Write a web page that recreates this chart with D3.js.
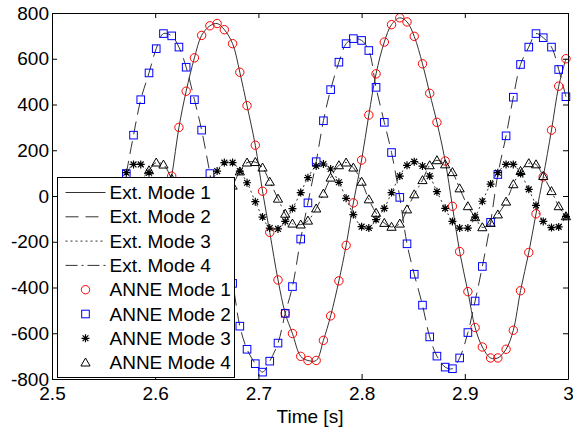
<!DOCTYPE html>
<html>
<head>
<meta charset="UTF-8">
<script src="https://cdn.jsdelivr.net/npm/d3@7/dist/d3.min.js"></script>
<style>
  body { margin: 0; background: #fff; }
  text { font-family: Arial, "Liberation Sans", sans-serif; fill: #000; }
</style>
</head>
<body>
<script>
// time samples [s]
var time = [2.572, 2.579, 2.586, 2.594, 2.601, 2.608, 2.616, 2.623, 2.630, 2.638,
            2.645, 2.653, 2.660, 2.667, 2.675, 2.682, 2.689, 2.697, 2.704, 2.711,
            2.719, 2.726, 2.733, 2.741, 2.748, 2.756, 2.763, 2.770, 2.778, 2.785,
            2.792, 2.800, 2.807, 2.814, 2.822, 2.829, 2.837, 2.844, 2.851, 2.859,
            2.866, 2.873, 2.881, 2.888, 2.895, 2.903, 2.910, 2.917, 2.925, 2.932,
            2.940, 2.947, 2.954, 2.962, 2.969, 2.976, 2.984, 2.991, 2.998];

var mode1 = [-710, -660, -570, -440, -280, -100, 87, 300, 458, 604,
             702, 744, 754, 727, 666, 541, 395, 222, 21, -159,
             -367, -513, -601, -701, -719, -719, -631, -524, -371, -216,
             -30, 157, 354, 534, 673, 749, 779, 761, 698, 578,
             449, 322, 153, -45, -243, -418, -575, -660, -708, -708,
             -670, -587, -414, -247, -78, 84, 288, 480, 600];

var mode2 = [98, 266, 421, 538, 644, 710, 700, 651, 563, 421,
             288, 98, -85, -245, -382, -569, -670, -733, -770, -722,
             -643, -513, -396, -188, -30, 150, 329, 465, 585, 666,
             688, 680, 636, 475, 322, 190, -6, -209, -342, -477,
             -616, -700, -748, -755, -708, -597, -459, -308, -115, 94,
             263, 432, 575, 651, 710, 692, 651, 553, 434];

var mode3 = [102, 138, 138, 102, 50, -25, -90, -138, -142, -110,
             -45, 35, 109, 146, 146, 109, 58, -25, -92, -140,
             -144, -111, -55, 15, 80, 131, 140, 118, 60, -10,
             -81, -134, -140, -103, -54, 15, 87, 134, 150, 131,
             87, 19, -54, -111, -140, -140, -92, -23, 52, 102,
             138, 138, 98, 29, -41, -111, -138, -135, -89];

var mode4 = [-60, -5, 60, 112, 146, 137, 75, 10, -60, -115,
             -140, -130, -90, -25, 45, 107, 146, 148, 124, 62,
             -12, -78, -121, -125, -108, -55, 10, 80, 134, 146,
             124, 62, -15, -74, -118, -135, -121, -59, 7, 69,
             134, 156, 138, 104, 33, -45, -93, -137, -118, -81,
             -25, 51, 109, 143, 138, 87, 21, -45, -89];

var xTicks = [2.5, 2.6, 2.7, 2.8, 2.9, 3];
var yTicks = [-800, -600, -400, -200, 0, 200, 400, 600, 800];
var legendLabels = ["Ext. Mode 1", "Ext. Mode 2", "Ext. Mode 3", "Ext. Mode 4",
                    "ANNE Mode 1", "ANNE Mode 2", "ANNE Mode 3", "ANNE Mode 4"];

var width = 573, height = 430;
var fs = "19px";

var svg = d3.select("body").append("svg")
    .attr("width", width)
    .attr("height", height);

var x = d3.scaleLinear().domain([2.5, 3]).range([52, 568]);
var y = d3.scaleLinear().domain([-800, 800]).range([379, 13]);

// line styles of the four Ext. modes
var dashes = [null, "13,7", "2,3", "12,4,2,4"];
var series = [mode1, mode2, mode3, mode4];

var line = d3.line()
    .x(function(d, i) { return x(time[i]); })
    .y(function(d) { return y(d); })
    .curve(d3.curveCatmullRom);

var plot = svg.append("g");

series.forEach(function(s, k) {
    plot.append("path")
        .datum(s)
        .attr("d", line)
        .attr("fill", "none")
        .attr("stroke", "#333")
        .attr("stroke-width", 1)
        .attr("stroke-dasharray", dashes[k]);
});

// marker shapes
function circle(g) {
    g.append("circle").attr("r", 4.2).attr("fill", "none").attr("stroke", "#f00");
}
function square(g) {
    g.append("rect").attr("x", -3.8).attr("y", -3.8).attr("width", 7.6).attr("height", 7.6)
        .attr("fill", "none").attr("stroke", "#00f");
}
function star(g) {
    g.append("path").attr("d", "M-4,0H4M0,-4V4M-2.9,-2.9L2.9,2.9M-2.9,2.9L2.9,-2.9")
        .attr("stroke", "#000").attr("stroke-width", 1.2);
}
function triangle(g) {
    g.append("path").attr("d", "M0,-4.6L4.6,3.4L-4.6,3.4Z")
        .attr("fill", "none").attr("stroke", "#000");
}
var markers = [circle, square, star, triangle];

series.forEach(function(s, k) {
    plot.selectAll(null)
        .data(s)
        .enter().append("g")
        .attr("transform", function(d, i) { return "translate(" + x(time[i]) + "," + y(d) + ")"; })
        .each(function() { markers[k](d3.select(this)); });
});

// axes, ticks pointing inward
function styleAxis(g) {
    g.selectAll(".domain").attr("stroke", "#000");
    g.selectAll(".tick line").attr("stroke", "#000");
    g.selectAll("text").attr("font-size", fs).attr("font-family", null).attr("fill", "#000");
}

svg.append("g")
    .attr("transform", "translate(0," + y(-800) + ")")
    .call(d3.axisBottom(x).tickValues(xTicks).tickSizeInner(-5).tickSizeOuter(0).tickPadding(8)
        .tickFormat(d3.format("")))
    .call(styleAxis);

svg.append("g")
    .attr("transform", "translate(0," + y(800) + ")")
    .call(d3.axisTop(x).tickValues(xTicks).tickSizeInner(-5).tickSizeOuter(0).tickFormat(""))
    .call(styleAxis);

svg.append("g")
    .attr("transform", "translate(" + x(2.5) + ",0)")
    .call(d3.axisLeft(y).tickValues(yTicks).tickSizeInner(-5).tickSizeOuter(0).tickPadding(3)
        .tickFormat(d3.format("d")))
    .call(styleAxis);

svg.append("g")
    .attr("transform", "translate(" + x(3) + ",0)")
    .call(d3.axisRight(y).tickValues(yTicks).tickSizeInner(-5).tickSizeOuter(0).tickFormat(""))
    .call(styleAxis);

// minus sign as plain hyphen, like the original
svg.selectAll("text").text(function() { return this.textContent.replace("\u2212", "-"); });

svg.append("text")
    .attr("x", (x(2.5) + x(3)) / 2)
    .attr("y", 423)
    .attr("text-anchor", "middle")
    .attr("font-size", fs)
    .text("Time [s]");

// legend
var legend = svg.append("g").attr("transform", "translate(57.5,177.5)");
legend.append("rect")
    .attr("width", 177).attr("height", 200)
    .attr("fill", "#fff").attr("stroke", "#000");

legendLabels.forEach(function(label, k) {
    var ly = 15 + k * 24.3;
    if (k < 4) {
        legend.append("line")
            .attr("x1", 8).attr("x2", 48).attr("y1", ly).attr("y2", ly)
            .attr("stroke", "#333").attr("stroke-dasharray", dashes[k]);
    } else {
        var g = legend.append("g").attr("transform", "translate(28," + ly + ")");
        markers[k - 4](g);
    }
    legend.append("text")
        .attr("x", 52).attr("y", ly).attr("dy", "0.35em")
        .attr("font-size", fs)
        .text(label);
});
</script>
</body>
</html>
